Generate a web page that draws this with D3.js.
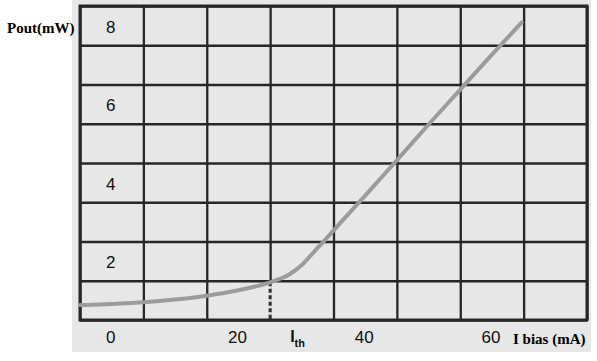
<!DOCTYPE html>
<html>
<head>
<meta charset="utf-8">
<script src="https://cdn.jsdelivr.net/npm/d3@7"></script>
<style>
  html, body { margin: 0; padding: 0; background: #ffffff; }
  svg { display: block; }
</style>
</head>
<body>
<svg id="chart" width="597" height="361"></svg>
<script>
// ---- data ----
const ibias = [-5, 0, 5, 10, 15, 20, 25, 28, 30, 32, 34, 36, 40, 45, 50, 55, 60, 64.7];
const pout  = [0.88, 0.91, 0.95, 1.02, 1.12, 1.26, 1.46, 1.66, 1.9, 2.25, 2.6, 2.96, 3.67, 4.57, 5.48, 6.37, 7.26, 8.08];
const xTickLabels = [0, 20, 40, 60];
const yTickLabels = [2, 4, 6, 8];
const gridX = [-5, 5, 15, 25, 35, 45, 55, 65, 75];
const gridY = [0.5, 1.5, 2.5, 3.5, 4.5, 5.5, 6.5, 7.5, 8.5];
const ith = 25;
const yTitle = "Pout(mW)";
const xTitle = "I bias (mA)";

// ---- layout ----
const svg = d3.select("#chart");
const pLeft = 80, pRight = 587, pTop = 6, pBottom = 320;
const bg = "#e7e7e7";

const x = d3.scaleLinear().domain([-5, 75]).range([pLeft, pRight]);
const y = d3.scaleLinear().domain([0.5, 8.5]).range([pBottom, pTop]);

// scanned paper background
svg.append("rect").attr("x", 72).attr("y", 0).attr("width", 519).attr("height", 352)
  .attr("fill", bg);

// grid via axes
const gx = svg.append("g").attr("transform", `translate(0,${pBottom})`)
  .call(d3.axisBottom(x).tickValues(gridX).tickSize(-(pBottom - pTop)).tickFormat(""));
gx.select(".domain").remove();
gx.selectAll(".tick line").attr("stroke", "#262626").attr("stroke-width", 2.3);

const gy = svg.append("g").attr("transform", `translate(${pLeft},0)`)
  .call(d3.axisLeft(y).tickValues(gridY).tickSize(-(pRight - pLeft)).tickFormat(""));
gy.select(".domain").remove();
gy.selectAll(".tick line").attr("stroke", "#262626").attr("stroke-width", 2.3);

// outer frame
svg.append("rect").attr("x", pLeft).attr("y", pTop)
  .attr("width", pRight - pLeft).attr("height", pBottom - pTop)
  .attr("fill", "none").attr("stroke", "#262626").attr("stroke-width", 3);

// threshold dashed line (replaces the solid grid line below the curve)
const pAtIth = pout[ibias.indexOf(ith)];
svg.append("line")
  .attr("x1", x(ith)).attr("x2", x(ith))
  .attr("y1", y(pAtIth) + 2).attr("y2", pBottom - 2)
  .attr("stroke", bg).attr("stroke-width", 3.5);
svg.append("line")
  .attr("x1", x(ith)).attr("x2", x(ith))
  .attr("y1", y(pAtIth)).attr("y2", pBottom)
  .attr("stroke", "#303030").attr("stroke-width", 3).attr("stroke-dasharray", "4,2.5");

// curve
const pts = ibias.map((v, i) => [v, pout[i]]);
svg.append("path")
  .datum(pts)
  .attr("d", d3.line().x(d => x(d[0])).y(d => y(d[1])).curve(d3.curveMonotoneX))
  .attr("fill", "none").attr("stroke", "#9b9b9b").attr("stroke-width", 4)
  .attr("stroke-linecap", "round");

// y labels inside the first column
svg.append("g").selectAll("text").data(yTickLabels).join("text")
  .attr("x", x(0) - 1).attr("y", d => y(d) + 7)
  .attr("text-anchor", "middle")
  .attr("font-family", "Liberation Sans, Arial, sans-serif")
  .attr("font-size", 17).attr("fill", "#111")
  .text(d => d);

// x labels
svg.append("g").selectAll("text").data(xTickLabels).join("text")
  .attr("x", d => x(d) - 1).attr("y", 343)
  .attr("text-anchor", "middle")
  .attr("font-family", "Liberation Sans, Arial, sans-serif")
  .attr("font-size", 17).attr("fill", "#111")
  .text(d => d);

// Ith label
const ithT = svg.append("text")
  .attr("x", x(ith) + 20).attr("y", 342)
  .attr("font-family", "Liberation Sans, Arial, sans-serif")
  .attr("font-weight", "bold").attr("fill", "#111");
ithT.append("tspan").attr("font-size", 16).text("I");
ithT.append("tspan").attr("font-size", 11).attr("dy", 5).text("th");

// axis titles
svg.append("text").attr("x", 7).attr("y", 33)
  .attr("font-family", "Liberation Serif, Times New Roman, serif")
  .attr("font-weight", "bold").attr("font-size", 15).attr("fill", "#000")
  .text(yTitle);

svg.append("text").attr("x", 513).attr("y", 344)
  .attr("font-family", "Liberation Serif, Times New Roman, serif")
  .attr("font-weight", "bold").attr("font-size", 15).attr("fill", "#000")
  .text(xTitle);
</script>
</body>
</html>
